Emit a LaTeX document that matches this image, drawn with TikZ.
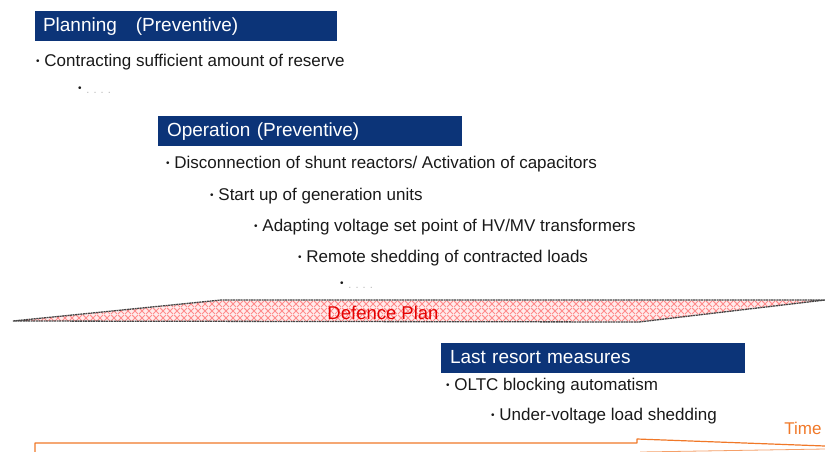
\documentclass[tikz,border=0pt]{standalone}
\usepackage{fontspec}
\setmainfont{Liberation Sans}
\usetikzlibrary{patterns.meta}
\definecolor{navy}{RGB}{12,52,120}
\definecolor{txt}{RGB}{25,25,25}
\definecolor{timeor}{RGB}{240,120,40}
\tikzdeclarepattern{name=bigcross,type=uncolored,
  bounding box={(0pt,0pt) and (6.5pt,6.5pt)},tile size={(6.5pt,6.5pt)},line width=1.3pt,
  code={\draw (0pt,0pt) -- (6.5pt,6.5pt); \draw (0pt,6.5pt) -- (6.5pt,0pt);}}
\newcommand{\bul}{{\fontsize{10}{10}\selectfont\raisebox{2pt}{•}}\ }
\newcommand{\dotsgray}{\textcolor{gray!55}{\fontsize{11}{11}\selectfont. . . .}}
\begin{document}
\begin{tikzpicture}[x=1pt,y=-1pt,
  hdr/.style={fill=navy,text=white,minimum height=30pt,inner sep=0pt,
    text height=13pt,text depth=2pt,
    font=\fontsize{19}{21}\selectfont,align=left},
  itm/.style={anchor=west,inner sep=0pt,text=txt,font=\fontsize{17}{19}\selectfont}]
\useasboundingbox (0,0) rectangle (825,451);
% headers
\node[hdr,minimum width=302pt,text width=286pt] (h1) at (186,25.5) {Planning \ \ (Preventive)};
\node[hdr,minimum width=304pt,text width=286pt] (h2) at (310,131) {Operation (Preventive)};
\node[hdr,minimum width=304pt,text width=286pt] (h3) at (593,358) {Last resort measures};
% planning items
\node[itm] (p1) at (36,62) {\bul Contracting sufficient amount of reserve};
\node[itm] (p2) at (78,90) {\bul\dotsgray};
% operation items
\node[itm] (o1) at (166,164.5) {\bul Disconnection of shunt reactors/ Activation of capacitors};
\node[itm] (o2) at (210,196.5) {\bul Start up of generation units};
\node[itm] (o3) at (254,227.5) {\bul Adapting voltage set point of HV/MV transformers};
\node[itm] (o4) at (298,258.5) {\bul Remote shedding of contracted loads};
\node[itm] (o5) at (340,285) {\bul\dotsgray};
% defence plan band
\fill[red!8] (13,321) -- (221,300) -- (825,300) -- (639,322) -- cycle;
\fill[pattern=bigcross,pattern color=red!45] (13,321) -- (221,300) -- (825,300) -- (639,322) -- cycle;
\draw[gray!55!black,line width=1.3pt,line join=round,dash pattern=on 2pt off 0.6pt] (13,321) -- (221,300) -- (825,300) -- (639,322) -- cycle;
\node[text=red!90!black,font=\fontsize{18.5}{20}\selectfont,inner sep=0pt] (dp) at (383,312.5) {Defence Plan};
% last resort items
\node[itm] (l1) at (446,386) {\bul OLTC blocking automatism};
\node[itm] (l2) at (491,416) {\bul Under-voltage load shedding};
% time arrow
\node[text=timeor,font=\fontsize{17}{19}\selectfont,inner sep=0pt] (t) at (803,428) {Time};
\draw[timeor,line width=1.2pt,line join=round] (35,452) -- (35,443) -- (637,443) -- (637,439) -- (825,446);
\draw[timeor!70,line width=0.8pt] (640,452) -- (825,449);
\end{tikzpicture}
\end{document}
